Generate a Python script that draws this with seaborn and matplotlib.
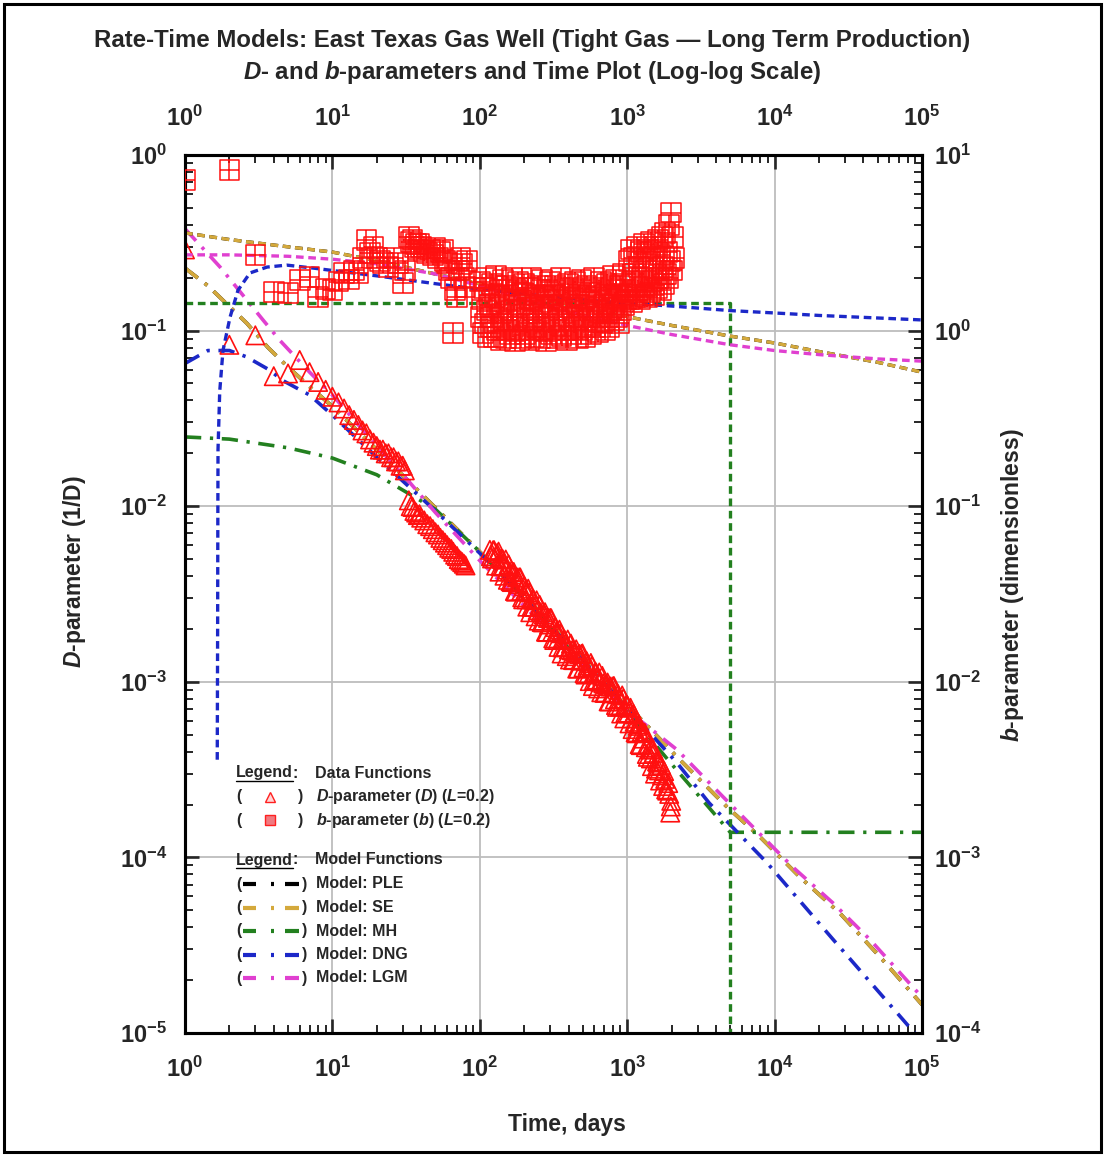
import matplotlib
matplotlib.use("Agg")
import matplotlib.pyplot as plt
import seaborn as sns
from matplotlib.path import Path
from matplotlib.patches import Rectangle

# ---------------- data: D-parameter (1/D) from rate data, L = 0.2 ----------------
d_time = [1, 2, 3, 4, 5, 6, 7, 8, 9, 10, 11, 12, 13, 14, 15, 16, 17, 18, 19, 20,
          21, 22, 23, 24, 25, 26, 27, 28, 29, 30, 31,
          33, 34, 35, 36, 37, 38, 39, 40, 42, 44, 46, 48, 50, 52, 54, 56, 58, 60,
          62, 64, 66, 68, 70, 72, 74, 76, 78, 80,
          117, 121, 125, 129, 134, 138, 143, 147, 152, 157, 162, 168, 173, 179, 185,
          191, 197, 203, 210, 217, 224, 231, 239, 247, 255, 263, 272, 281, 290, 300,
          310, 320, 331, 342, 353, 364, 377, 389, 402, 415, 429, 443, 458, 473, 489,
          505, 522, 539, 557, 576, 595, 615, 635, 656, 678, 701, 724, 748, 773, 799,
          825, 853, 881, 910, 941, 972, 1005, 1037, 1071, 1106, 1141, 1178, 1216, 1256,
          1296, 1338, 1381, 1426, 1472, 1519, 1568, 1619, 1671, 1725, 1781, 1838, 1898,
          1928, 1959, 1990,
          119, 123, 127, 131, 136, 140, 145, 150, 155, 160, 165, 170, 176, 182, 188,
          194, 200, 207, 213, 220, 228, 235, 243, 251, 259, 268, 277, 286, 295, 305,
          315, 325, 336, 347, 359, 370, 383, 395, 409, 422, 436, 451, 466, 481, 497,
          514, 531, 548, 567, 585, 605, 625, 646, 667, 689, 712, 736, 760, 786, 812,
          839, 867, 896, 925, 956, 988, 1021, 1054, 1088, 1123, 1160, 1197, 1236, 1276,
          1317, 1359, 1403, 1448, 1495, 1544, 1593, 1645, 1698, 1753, 1809, 1868, 1975]
d_value = [0.29, 0.083, 0.094, 0.055, 0.057, 0.068, 0.058, 0.051, 0.046, 0.042,
           0.039, 0.036, 0.033, 0.031, 0.029, 0.027, 0.026, 0.024, 0.023, 0.022,
           0.021, 0.021, 0.020, 0.020, 0.019, 0.019, 0.018, 0.018, 0.017, 0.017, 0.016,
           0.0108, 0.0100, 0.0099, 0.0094, 0.0092, 0.0089, 0.0090, 0.0086, 0.0083,
           0.0079, 0.0077, 0.0074, 0.0071, 0.0069, 0.0066, 0.0064, 0.0062, 0.0060,
           0.0058, 0.0057, 0.0055, 0.0053, 0.0052, 0.0050, 0.0049, 0.0048, 0.0047, 0.0046,
           0.00564, 0.00504, 0.00562, 0.00459, 0.00551, 0.00456, 0.00499, 0.00402,
           0.00436, 0.00466, 0.00374, 0.00410, 0.00329, 0.00393, 0.00393, 0.00329,
           0.00295, 0.00330, 0.00268, 0.00323, 0.00267, 0.00294, 0.00236, 0.00256,
           0.00274, 0.00219, 0.00242, 0.00193, 0.00231, 0.00231, 0.00193, 0.00173,
           0.00192, 0.00158, 0.00189, 0.00157, 0.00173, 0.00140, 0.00153, 0.00165,
           0.00133, 0.00148, 0.00119, 0.00144, 0.00144, 0.00121, 0.00110, 0.00124,
           0.00101, 0.00123, 0.00102, 0.00113, 0.000917, 0.00100, 0.00108, 0.000865,
           0.000966, 0.000774, 0.000940, 0.000941, 0.000795, 0.000720, 0.000801,
           0.000660, 0.000803, 0.000667, 0.000732, 0.000580, 0.000619, 0.000654,
           0.000516, 0.000561, 0.000442, 0.000521, 0.000514, 0.000424, 0.000374,
           0.000411, 0.000331, 0.000394, 0.000320, 0.000347, 0.000274, 0.000293,
           0.000310, 0.000244, 0.000265, 0.000230, 0.000180, 0.000210,
           0.00519, 0.00561, 0.00504, 0.00540, 0.00424, 0.00504, 0.00454, 0.00497,
           0.00381, 0.00425, 0.00370, 0.00422, 0.00326, 0.00361, 0.00393, 0.00303,
           0.00351, 0.00295, 0.00339, 0.00249, 0.00296, 0.00267, 0.00291, 0.00223,
           0.00249, 0.00218, 0.00249, 0.00192, 0.00212, 0.00230, 0.00177, 0.00205,
           0.00173, 0.00198, 0.00145, 0.00174, 0.00158, 0.00174, 0.00134, 0.00151,
           0.00133, 0.00153, 0.00119, 0.00132, 0.00145, 0.00112, 0.00131, 0.00111,
           0.00128, 0.000946, 0.00113, 0.00103, 0.00113, 0.000872, 0.000979, 0.000865,
           0.000990, 0.000774, 0.000859, 0.000946, 0.000737, 0.000850, 0.000722,
           0.000836, 0.000619, 0.000742, 0.000661, 0.000711, 0.000538, 0.000592,
           0.000509, 0.000573, 0.000436, 0.000475, 0.000511, 0.000388, 0.000441,
           0.000366, 0.000415, 0.000300, 0.000352, 0.000313, 0.000336, 0.000255,
           0.000280, 0.000240, 0.000195]

# ---------------- data: b-parameter (dimensionless), L = 0.2 ----------------
b_time = [1, 2, 3, 4, 5, 6, 7, 8, 9, 10, 11, 12, 13, 14, 15, 16, 17, 18, 19, 20,
          21, 22, 24, 26, 28, 30, 31,
          33, 34, 35, 36, 37, 38, 39, 40, 42, 44, 46, 48, 50, 52, 54, 56, 58, 60,
          62, 64, 66, 68, 70, 72, 74, 76, 78, 80, 82,
          100, 102, 103, 105, 107, 108, 110, 112, 114, 116,
          117, 119, 121, 123, 125, 127, 129, 131, 134, 136,
          138, 140, 143, 145, 147, 150, 152, 155, 157, 160,
          162, 165, 168, 170, 173, 176, 179, 182, 185, 188,
          191, 194, 197, 200, 203, 207, 210, 213, 217, 220,
          224, 228, 231, 235, 239, 243, 247, 251, 255, 259,
          263, 268, 272, 277, 281, 286, 290, 295, 300, 305,
          310, 315, 320, 325, 331, 336, 342, 347, 353, 359,
          364, 370, 377, 383, 389, 395, 402, 409, 415, 422,
          429, 436, 443, 451, 458, 466, 473, 481, 489, 497,
          505, 514, 522, 531, 539, 548, 557, 567, 576, 585,
          595, 605, 615, 625, 635, 646, 656, 667, 678, 689,
          701, 712, 724, 736, 748, 760, 773, 786, 799, 812,
          825, 839, 853, 867, 881, 896, 910, 925, 941, 956,
          972, 988,
          1005, 1021, 1037, 1054, 1071, 1088, 1106, 1123, 1141, 1160,
          1178, 1197, 1216, 1236, 1256, 1276, 1296, 1317, 1338, 1359,
          1381, 1403, 1426, 1448, 1472, 1495, 1519, 1544, 1568, 1593,
          1619, 1645, 1671, 1698, 1725, 1753, 1781, 1809, 1838, 1868,
          1898, 1928, 1959, 1990, 2022, 2054, 2087]
b_value = [7.2, 8.2, 2.7, 1.66, 1.64, 1.94, 2.02, 1.55, 1.72, 1.70, 1.9, 2.13, 1.95,
           2.2, 2.13, 2.6, 3.27, 2.77, 3.0, 2.6, 2.5, 2.42, 2.3, 2.6, 2.42, 1.87, 2.2,
           3.4, 3.2, 3.3, 3.0, 3.1, 2.9, 3.1, 3.0, 2.85, 2.77, 2.9, 2.7, 2.95, 2.6,
           2.8, 2.88, 2.5, 2.42, 2.2, 2.0, 0.97, 1.7, 1.55, 2.2, 2.6, 2.4, 2.0, 1.77, 2.5,
           1.9, 1.2, 1.5, 0.97, 1.75, 1.1, 2.0, 1.3, 0.92, 1.6,
           1.4, 1.05, 1.85, 1.2, 0.92, 1.55, 2.05, 1.0, 1.35, 1.7,
           0.88, 1.25, 1.95, 1.1, 1.45, 0.9, 1.8, 1.15, 1.6, 0.95,
           1.3, 2.0, 1.05, 1.5, 0.87, 1.7, 1.2, 1.9, 1.0, 1.4,
           0.9, 1.65, 1.25, 1.85, 0.95, 1.35, 1.1, 1.75, 0.88, 1.5,
           2.0, 1.15, 1.3, 0.92, 1.6, 1.05, 1.8, 1.25, 0.9, 1.45,
           1.95, 1.0, 1.55, 1.2, 0.87, 1.7, 1.35, 1.1, 1.9, 0.95,
           1.4, 1.6, 1.05, 1.8, 0.9, 1.3, 1.5, 1.15, 2.0, 0.93,
           1.25, 1.7, 1.0, 1.45, 0.88, 1.85, 1.2, 1.55, 0.95, 1.35,
           1.75, 1.1, 1.9, 1.05, 1.4, 0.9, 1.6, 1.3, 1.95, 1.0,
           1.2, 1.5, 0.92, 1.8, 1.15, 1.35, 1.65, 0.95, 1.45, 1.25,
           2.0, 1.05, 1.55, 1.3, 0.98, 1.7, 1.2, 1.9, 1.1, 1.4,
           1.6, 1.0, 1.85, 1.25, 1.5, 1.05, 1.75, 1.35, 2.05, 1.15,
           1.45, 1.95, 1.2, 1.6, 1.1, 1.8, 1.3, 1.55, 2.1, 1.4,
           1.7, 1.5,
           1.6, 2.5, 1.5, 2.9, 1.9, 1.45, 2.6, 2.1, 1.55, 3.0,
           1.7, 2.3, 1.5, 2.8, 2.0, 1.6, 3.1, 1.8, 2.5, 1.55,
           2.9, 2.1, 1.65, 3.2, 1.9, 2.6, 1.6, 3.0, 2.2, 1.75,
           3.3, 2.0, 2.7, 1.7, 3.4, 2.3, 1.85, 3.6, 2.1, 2.8,
           2.0, 4.0, 2.5, 4.7, 2.2, 3.4, 2.6]

# ---------------- model functions: D-parameter ----------------
ple_d_time = [1, 1.43, 2.63, 3.66, 5, 7, 10, 20, 50, 100, 200, 500, 1000, 2180,
              4750, 7950, 14900, 27800, 54300, 100000]
ple_d_value = [0.227, 0.18, 0.11, 0.08, 0.062, 0.048, 0.037, 0.021, 0.0098, 0.0055,
               0.0031, 0.00138, 0.00074, 0.000373, 0.000194, 0.000131, 7.7e-5,
               4.8e-5, 2.6e-5, 1.45e-5]
se_d_time = [1, 1.43, 2.63, 3.66, 5, 7, 10, 20, 50, 100, 200, 500, 1000, 2180,
             4750, 7950, 14900, 27800, 54300, 100000]
se_d_value = [0.227, 0.18, 0.11, 0.08, 0.062, 0.048, 0.037, 0.021, 0.0098, 0.0055,
              0.0031, 0.00138, 0.00074, 0.000373, 0.000194, 0.000131, 7.7e-5,
              4.8e-5, 2.6e-5, 1.45e-5]
mh_d_time = [1, 2, 5, 10, 20, 50, 100, 200, 500, 1000, 2000, 5000, 5000, 100000]
mh_d_value = [0.0248, 0.0241, 0.0215, 0.0188, 0.0151, 0.0096, 0.0055, 0.0030,
              0.00126, 0.00068, 0.00034, 0.000139, 0.000139, 0.000139]
dng_d_time = [1, 1.43, 2.0, 2.6, 3.7, 4.6, 7, 10, 20, 50, 100, 200, 500, 1000,
              2180, 3600, 8900, 25000, 83000, 100000]
dng_d_value = [0.065, 0.077, 0.077, 0.071, 0.060, 0.052, 0.043, 0.033, 0.019, 0.0094,
               0.0054, 0.0030, 0.00133, 0.00071, 0.000345, 0.000204, 9.3e-5,
               3.4e-5, 1.07e-5, 9.0e-6]
lgm_d_time = [1, 1.73, 3.38, 4.4, 7, 10, 20, 33.6, 50, 100, 200, 500, 1000, 2180,
              4500, 13300, 24900, 44400, 100000]
lgm_d_value = [0.38, 0.23, 0.115, 0.088, 0.058, 0.043, 0.022, 0.0136, 0.0092, 0.0049,
               0.0027, 0.00125, 0.00069, 0.00041, 0.00022, 8.8e-5, 5.5e-5, 3.4e-5, 1.6e-5]

# ---------------- model functions: b-parameter ----------------
ple_b_time = [1, 2, 5, 10, 20, 50, 100, 200, 500, 1000, 2000, 5000, 10000, 20000, 50000, 100000]
ple_b_value = [3.6, 3.3, 3.0, 2.8, 2.5, 2.1, 1.85, 1.6, 1.35, 1.2, 1.07, 0.93, 0.85, 0.76, 0.66, 0.58]
se_b_time = [1, 2, 5, 10, 20, 50, 100, 200, 500, 1000, 2000, 5000, 10000, 20000, 50000, 100000]
se_b_value = [3.6, 3.3, 3.0, 2.8, 2.5, 2.1, 1.85, 1.6, 1.35, 1.2, 1.07, 0.93, 0.85, 0.76, 0.66, 0.58]
mh_b_time = [1, 5000, 5000]
mh_b_value = [1.44, 1.44, 1e-5]
dng_b_time = [1.655, 1.665, 1.67, 1.675, 1.72, 1.81, 2.02, 2.29, 2.76, 3.6, 4.9, 7.4,
              10, 20, 50, 100, 200, 500, 1000, 2000, 5000, 10000, 20000, 50000, 100000]
dng_b_value = [0.0036, 0.02, 0.08, 0.21, 0.45, 0.77, 1.19, 1.70, 2.13, 2.30, 2.36, 2.27,
               2.2, 2.05, 1.85, 1.72, 1.62, 1.5, 1.43, 1.38, 1.3, 1.26, 1.22, 1.18, 1.15]
lgm_b_time = [1, 2, 5, 10, 20, 50, 100, 200, 500, 1000, 2000, 5000, 10000, 20000, 50000, 100000]
lgm_b_value = [2.7, 2.7, 2.65, 2.55, 2.4, 2.1, 1.8, 1.5, 1.22, 1.07, 0.95, 0.83, 0.77, 0.73, 0.69, 0.67]

model_names = ["PLE", "SE", "MH", "DNG", "LGM"]
model_colors = ["#000000", "#d4a93c", "#23801f", "#1c28c8", "#e040d0"]

x_ticks = [1, 10, 100, 1000, 10000, 100000]
x_tick_labels = [r"$\mathregular{10^{0}}$", r"$\mathregular{10^{1}}$", r"$\mathregular{10^{2}}$",
                 r"$\mathregular{10^{3}}$", r"$\mathregular{10^{4}}$", r"$\mathregular{10^{5}}$"]
d_ticks = [1e-5, 1e-4, 1e-3, 1e-2, 1e-1, 1]
d_tick_labels = [r"$\mathregular{10^{-5}}$", r"$\mathregular{10^{-4}}$", r"$\mathregular{10^{-3}}$",
                 r"$\mathregular{10^{-2}}$", r"$\mathregular{10^{-1}}$", r"$\mathregular{10^{0}}$"]
b_ticks = [1e-4, 1e-3, 1e-2, 1e-1, 1, 10]
b_tick_labels = [r"$\mathregular{10^{-4}}$", r"$\mathregular{10^{-3}}$", r"$\mathregular{10^{-2}}$",
                 r"$\mathregular{10^{-1}}$", r"$\mathregular{10^{0}}$", r"$\mathregular{10^{1}}$"]

# ---------------- style ----------------
sns.set_style("white")
plt.rcParams.update({
    "font.family": ["Liberation Sans", "DejaVu Sans"],
    "font.weight": "bold",
    "mathtext.fontset": "custom",
    "mathtext.rm": "Liberation Sans:bold",
    "mathtext.it": "Liberation Sans:italic:bold",
    "mathtext.bf": "Liberation Sans:bold",
    "axes.linewidth": 2.2,
})

DASHDOT = (0, (4.5, 2.4, 0.9, 2.4))
DOTTED = (0, (2.3, 1.4))
RED = "#ff1010"

fig = plt.figure(figsize=(11.05, 11.55), dpi=100)
ax = fig.add_axes([185 / 1105, 122 / 1155, 737 / 1105, 878 / 1155])
ax.set_xscale("log")
ax.set_yscale("log")
ax.set_xlim(1, 1e5)
ax.set_ylim(1e-5, 1)
ax2 = ax.twinx()
ax2.set_yscale("log")
ax2.set_ylim(1e-4, 10)

# model D curves (left axis)
d_models = [(ple_d_time, ple_d_value), (se_d_time, se_d_value), (mh_d_time, mh_d_value),
            (dng_d_time, dng_d_value), (lgm_d_time, lgm_d_value)]
for (tt, vv), col in zip(d_models, model_colors):
    sns.lineplot(x=tt, y=vv, ax=ax, color=col, lw=2.6, linestyle=DASHDOT,
                 sort=False, estimator=None, legend=False, zorder=2)

# D data: open triangles
sns.scatterplot(x=d_time, y=d_value, ax=ax, marker="^", s=175, facecolor="none",
                edgecolor=RED, linewidth=1.2, legend=False, zorder=3)

# model b curves (right axis)
b_models = [(ple_b_time, ple_b_value), (se_b_time, se_b_value), (mh_b_time, mh_b_value),
            (dng_b_time, dng_b_value), (lgm_b_time, lgm_b_value)]
for (tt, vv), col in zip(b_models, model_colors):
    sns.lineplot(x=tt, y=vv, ax=ax2, color=col, lw=2.4, linestyle=DOTTED,
                 sort=False, estimator=None, legend=False, zorder=2)

# b data: squares with inner cross
box_plus = Path([(-1, -1), (1, -1), (1, 1), (-1, 1), (-1, -1), (0, -1), (0, 1), (-1, 0), (1, 0)],
                [Path.MOVETO, Path.LINETO, Path.LINETO, Path.LINETO, Path.CLOSEPOLY,
                 Path.MOVETO, Path.LINETO, Path.MOVETO, Path.LINETO])
sns.scatterplot(x=b_time, y=b_value, ax=ax2, marker=box_plus, s=200, facecolor="none",
                edgecolor=RED, linewidth=1.1, legend=False, zorder=3)

# ---------------- axes decoration ----------------
ax.grid(True, which="major", color="#bdbdbd", lw=1.3)
ax.set_axisbelow(True)
ax.set_xticks(x_ticks)
ax.set_xticklabels(x_tick_labels)
ax.set_yticks(d_ticks)
ax.set_yticklabels(d_tick_labels)
ax2.set_yticks(b_ticks)
ax2.set_yticklabels(b_tick_labels)
ax.tick_params(axis="x", which="both", direction="in", top=True, bottom=True,
               labeltop=False, labelbottom=True)
ax.tick_params(axis="y", which="both", direction="in", left=True, right=False)
ax2.tick_params(axis="y", which="both", direction="in", right=True, left=False)
for a in (ax, ax2):
    a.tick_params(which="major", length=10, width=1.9, labelsize=17, pad=9)
    a.tick_params(which="minor", length=6, width=1.4)
ax.tick_params(axis="y", pad=13)
ax.tick_params(axis="x", pad=17)

top = ax.secondary_xaxis("top")
top.set_xticks(x_ticks)
top.set_xticklabels(x_tick_labels)
top.tick_params(which="both", length=0, labelsize=17, pad=17)
top.spines["top"].set_visible(False)

ax.set_xlabel("")
ax.set_ylabel("")
ax2.set_ylabel("")
for sp in list(ax.spines.values()) + list(ax2.spines.values()):
    sp.set_linewidth(2.2)
    sp.set_color("black")

fig.text(532 / 1105, 1 - 40 / 1155,
         "Rate-Time Models: East Texas Gas Well (Tight Gas \u2014 Long Term Production)",
         ha="center", va="center", fontsize=17.3, weight="bold")
fig.text(532 / 1105, 1 - 72 / 1155,
         r"$\mathit{D}$- and $\mathit{b}$-parameters and Time Plot (Log-log Scale)",
         ha="center", va="center", fontsize=17.3, weight="bold")
fig.text(567 / 1105, 1 - 1124 / 1155, "Time, days", ha="center", va="center",
         fontsize=16.5, weight="bold")
fig.text(75 / 1105, 1 - 572 / 1155, r"$\mathit{D}$-parameter (1/D)", ha="center",
         va="center", rotation=90, fontsize=16.5, weight="bold")
fig.text(1013 / 1105, 1 - 585 / 1155, r"$\mathit{b}$-parameter (dimensionless)",
         ha="center", va="center", rotation=90, fontsize=16.5, weight="bold")

# ---------------- legend block ----------------
def fx(px):
    return (px - 185) / 737

def fy(py):
    return (1033 - py) / 878

leg_fs = 11.5
tr = ax2.transAxes
heads = []
for py, head in [(773, "Data Functions"), (860, "Model Functions")]:
    t_leg = ax2.text(fx(236), fy(py), "Legend", transform=tr, fontsize=leg_fs,
                     ha="left", va="center", weight="bold")
    heads.append((t_leg, py))
    ax2.text(fx(315), fy(py), head, transform=tr, fontsize=leg_fs, ha="left",
             va="center", weight="bold")

data_rows = [(797, r"$\mathit{D}$-parameter ($\mathit{D}$) ($\mathit{L}$=0.2)", "^", "#ffd6d6"),
             (820, r"$\mathit{b}$-parameter ($\mathit{b}$) ($\mathit{L}$=0.2)", "s", "#f07a80")]
for py, label, mk, fc in data_rows:
    ax2.text(fx(236), fy(py), "(", transform=tr, fontsize=leg_fs, ha="left", va="center")
    ax2.text(fx(298), fy(py), ")", transform=tr, fontsize=leg_fs, ha="left", va="center")
    ax2.plot([fx(270)], [fy(py)], transform=tr, marker=mk, ms=7, mfc=fc, mec="#ff2020",
             mew=1.0, ls="none", clip_on=False)
    ax2.text(fx(316), fy(py), label, transform=tr, fontsize=leg_fs, ha="left", va="center")

for i, (name, col) in enumerate(zip(model_names, model_colors)):
    py = 884 + i * 23.5
    ax2.text(fx(236), fy(py), "(", transform=tr, fontsize=leg_fs, ha="left", va="center")
    ax2.text(fx(302), fy(py), ")", transform=tr, fontsize=leg_fs, ha="left", va="center")
    for x0, x1 in [(243, 256), (270.5, 273.5), (285, 299)]:
        ax2.plot([fx(x0), fx(x1)], [fy(py), fy(py)], transform=tr, color=col, lw=3.0,
                 solid_capstyle="butt", clip_on=False)
    ax2.text(fx(316), fy(py), "Model: " + name, transform=tr, fontsize=leg_fs,
             ha="left", va="center")

fig.canvas.draw()
renderer = fig.canvas.get_renderer()
inv = ax2.transAxes.inverted()
for t_leg, py in heads:
    bb = t_leg.get_window_extent(renderer)
    (x0, y0), (x1, _) = inv.transform([(bb.x0, bb.y0), (bb.x1, bb.y0)])
    ax2.plot([x0, x1], [y0 - 0.001, y0 - 0.001], transform=tr, color="black", lw=1.0,
             clip_on=False)
    ax2.text(x1, fy(py), ":", transform=tr, fontsize=leg_fs, ha="left", va="center")

# outer frame
fig.patches.append(Rectangle((4 / 1105, 3 / 1155), 1097 / 1105, 1148 / 1155,
                             transform=fig.transFigure, fill=False, lw=2.2, ec="black"))

fig.savefig("out.png", dpi=100)
